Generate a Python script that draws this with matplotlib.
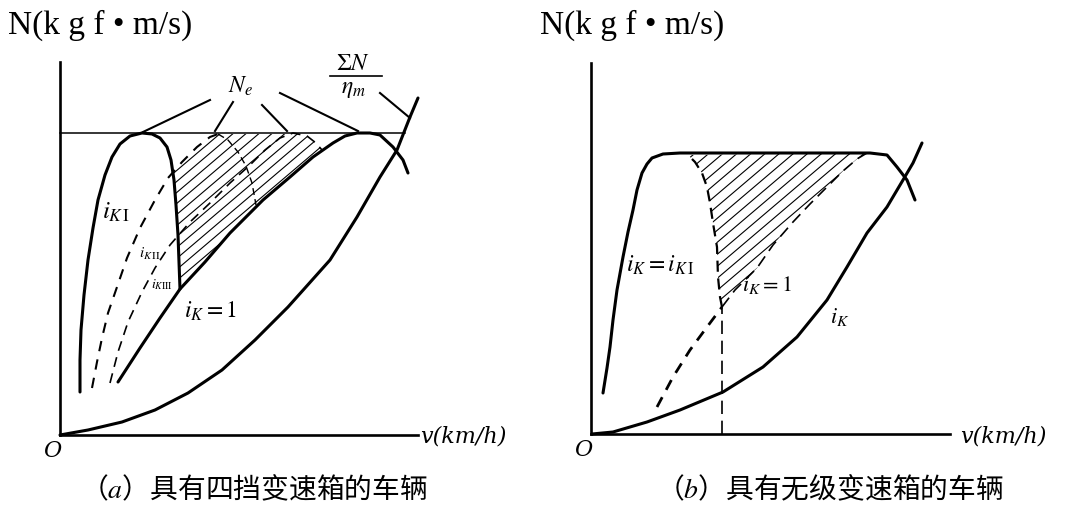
import numpy as np
import matplotlib
matplotlib.use("Agg")
import matplotlib.pyplot as plt
from matplotlib.patches import Polygon

plt.rcParams['font.family'] = ['Noto Sans CJK SC', 'DejaVu Sans']
plt.rcParams['mathtext.fontset'] = 'stix'

# ---------------- (a) four-speed gearbox: power N vs speed v (arbitrary units) ----------------
a_n_max = 302  # level of maximum engine power

a_gear1_v = [20, 20, 21, 24, 28, 33, 38, 45, 52, 60, 70, 82, 92, 100, 107, 111, 114, 116, 118, 119, 120]
a_gear1_n = [43, 75, 105, 140, 175, 207, 235, 260, 278, 291, 299, 302, 301, 297, 288, 275, 255, 230, 200, 173, 146]

a_gear2_rise_v = [32, 37, 42, 48, 57, 67, 80, 95, 108, 122, 137, 150, 158]
a_gear2_rise_n = [47, 73, 97, 122, 148, 177, 207, 235, 257, 273, 288, 298, 301]
a_gear2_fall_v = [158, 168, 178, 186, 192, 196]
a_gear2_fall_n = [301, 295, 283, 269, 252, 230]

a_gear3_v = [50, 58, 68, 82, 95, 110, 130, 150, 170, 190, 205, 220, 233, 247, 256, 262]
a_gear3_n = [52, 83, 113, 143, 167, 190, 213, 232, 252, 270, 285, 297, 302, 299, 292, 285]

a_gear4_v = [58, 80, 100, 120, 145, 170, 203, 230, 253, 273, 285, 297, 310, 320, 333, 343, 348]
a_gear4_n = [53, 87, 117, 146, 173, 202, 235, 258, 278, 292, 299, 302, 302, 300, 288, 275, 262]

a_resist_v = [0, 28, 62, 95, 128, 162, 195, 228, 245, 270, 297, 320, 337, 350, 358]
a_resist_n = [0, 5, 13, 25, 42, 65, 95, 128, 147, 175, 218, 258, 285, 318, 337]

# extra power region between gears
a_zone_v = [120, 119, 118, 116, 114, 113, 122, 137, 150, 158, 244, 247, 256, 262,
            253, 230, 203, 170, 145, 120]
a_zone_n = [146, 173, 200, 230, 255, 265, 273, 288, 298, 301, 301, 299, 292, 285,
            278, 258, 235, 202, 173, 146]

# ---------------- (b) continuously variable transmission ----------------
b_low_v = [12, 16, 19, 22, 26, 32, 37, 42, 46, 51, 56, 61, 72, 89, 180, 279, 296, 306, 316, 324]
b_low_n = [41, 66, 87, 114, 144, 177, 202, 224, 244, 261, 270, 276, 280, 281, 281, 281, 279, 267, 254, 234]

b_direct_v = [66, 82, 99, 116, 131, 144, 166, 182, 202, 219, 236, 252, 266, 276]
b_direct_n = [27, 57, 84, 107, 127, 144, 166, 189, 212, 230, 247, 263, 275, 281]

b_bound_v = [131, 129, 127, 126, 122, 119, 116, 111, 104, 97]
b_bound_n = [127, 137, 157, 187, 211, 231, 247, 261, 272, 279]

b_v_split = 131

b_resist_v = [1, 22, 56, 89, 132, 172, 206, 236, 256, 276, 296, 312, 322, 331]
b_resist_n = [0, 2, 12, 24, 42, 67, 97, 134, 167, 201, 227, 254, 271, 291]

W, H = 1086, 514
fig = plt.figure(figsize=(W / 100, H / 100), dpi=100)


def make_axes(left_px, base_px, width_px, height_px):
    ax = fig.add_axes([left_px / W, (H - base_px) / H, width_px / W, height_px / H])
    ax.set_xlim(0, width_px)
    ax.set_ylim(0, height_px)
    for side in ('top', 'right'):
        ax.spines[side].set_visible(False)
    for side in ('left', 'bottom'):
        ax.spines[side].set_linewidth(1.9)
    ax.set_xticks([])
    ax.set_yticks([])
    ax.patch.set_alpha(0)
    return ax


def hatch(ax, xs, ys, spacing, slope=0.85, lw=0.8):
    poly = Polygon(np.column_stack([xs, ys]), closed=True, facecolor='none', edgecolor='none')
    ax.add_patch(poly)
    x0, x1 = min(xs), max(xs)
    y0, y1 = min(ys), max(ys)
    for c in np.arange(y0 - slope * x1, y1 - slope * x0, spacing):
        ln, = ax.plot([x0, x1], [slope * x0 + c, slope * x1 + c], color='k', lw=lw)
        ln.set_clip_path(poly)


thick = dict(color='k', lw=2.2, solid_capstyle='round', clip_on=False)
thin = dict(color='k', lw=1.1, clip_on=False)
math_kw = dict(color='k', ha='center', va='center', clip_on=False)
axis_kw = dict(fontsize=16, fontstyle='italic', family='DejaVu Serif', va='center', clip_on=False)

# ---------- panel (a) ----------
ax = make_axes(60, 435, 358, 373)
hatch(ax, a_zone_v, a_zone_n, spacing=11)
ax.plot([0, 345], [a_n_max, a_n_max], **thin)
ax.plot(a_gear1_v, a_gear1_n, **thick)
ax.plot(a_gear4_v, a_gear4_n, **thick)
ax.plot(a_resist_v, a_resist_n, **thick)
ax.plot(a_gear2_rise_v, a_gear2_rise_n, color='k', lw=1.5, dashes=(5, 4), clip_on=False)
ax.plot(a_gear2_fall_v, a_gear2_fall_n, color='k', lw=1.0, dashes=(5, 3), clip_on=False)
ax.plot(a_gear3_v, a_gear3_n, color='k', lw=1.2, dashes=(6, 4), clip_on=False)

# leaders to the power peaks
lead = dict(color='k', lw=1.5, clip_on=False)
ax.plot([150, 83], [335, 303], **lead)
ax.plot([173, 155], [333, 304], **lead)
ax.plot([202, 227], [330, 304], **lead)
ax.plot([220, 298], [342, 304], **lead)
ax.text(181, 349, r'$N_e$', fontsize=17, **math_kw)

ax.text(293, 372, r'$\Sigma N$', fontsize=17, **math_kw)
ax.plot([270, 322], [359, 359], color='k', lw=1.2, clip_on=False)
ax.text(293, 346, r'$\eta_m$', fontsize=17, **math_kw)
ax.plot([320, 350], [342, 317], **lead)

ax.text(56, 223, r'$i_{K\,\mathrm{I}}$', fontsize=18, **math_kw)
ax.text(90, 181, r'$i_{K\,\mathrm{II}}$', fontsize=11, **math_kw)
ax.text(102, 150, r'$i_{K\mathrm{III}}$', fontsize=10, **math_kw)
ax.text(150, 124, r'$i_K = 1$', fontsize=17, **math_kw)

ax.text(-8, -16, 'O', ha='center', **axis_kw)
ax.text(360, -2, 'v(km/h)', ha='left', **axis_kw)

# ---------- panel (b) ----------
bx = make_axes(591, 434, 359, 371)
zone_v = b_bound_v + b_direct_v[::-1][:-4]
zone_n = b_bound_n + b_direct_n[::-1][:-4]
hatch(bx, zone_v, zone_n, spacing=12)
bx.plot(b_low_v, b_low_n, **thick)
bx.plot(b_resist_v, b_resist_n, **thick)
bx.plot(b_direct_v[:5], b_direct_n[:5], color='k', lw=2.0, dashes=(4, 3), clip_on=False)
bx.plot(b_direct_v[4:], b_direct_n[4:], color='k', lw=1.2, dashes=(7, 4), clip_on=False)
bx.plot([b_v_split, b_v_split], [0, b_bound_n[0]], color='k', lw=1.2, dashes=(8, 4), clip_on=False)
bx.plot(b_bound_v, b_bound_n, color='k', lw=1.6, dashes=(5, 3), clip_on=False)

bx.text(69, 169, r'$i_K = i_{K\,\mathrm{I}}$', fontsize=17, **math_kw)
bx.text(176, 149, r'$i_K = 1$', fontsize=16, **math_kw)
bx.text(249, 117, r'$i_K$', fontsize=16, **math_kw)

bx.text(-8, -16, 'O', ha='center', **axis_kw)
bx.text(369, -3, 'v(km/h)', ha='left', **axis_kw)

# ---------- axis titles and captions ----------
for x_px in (8, 540):
    fig.text(x_px / W, 1 - 25 / H, 'N(k g f • m/s)', fontsize=24,
             family='Liberation Serif', ha='left', va='center')

fig.text(254 / W, 1 - 490 / H, '（$a$）具有四挡变速箱的车辆', fontsize=20,
         ha='center', va='center')
fig.text(830 / W, 1 - 490 / H, '（$b$）具有无级变速箱的车辆', fontsize=20,
         ha='center', va='center')

fig.savefig('out.png', dpi=100, facecolor='white')
